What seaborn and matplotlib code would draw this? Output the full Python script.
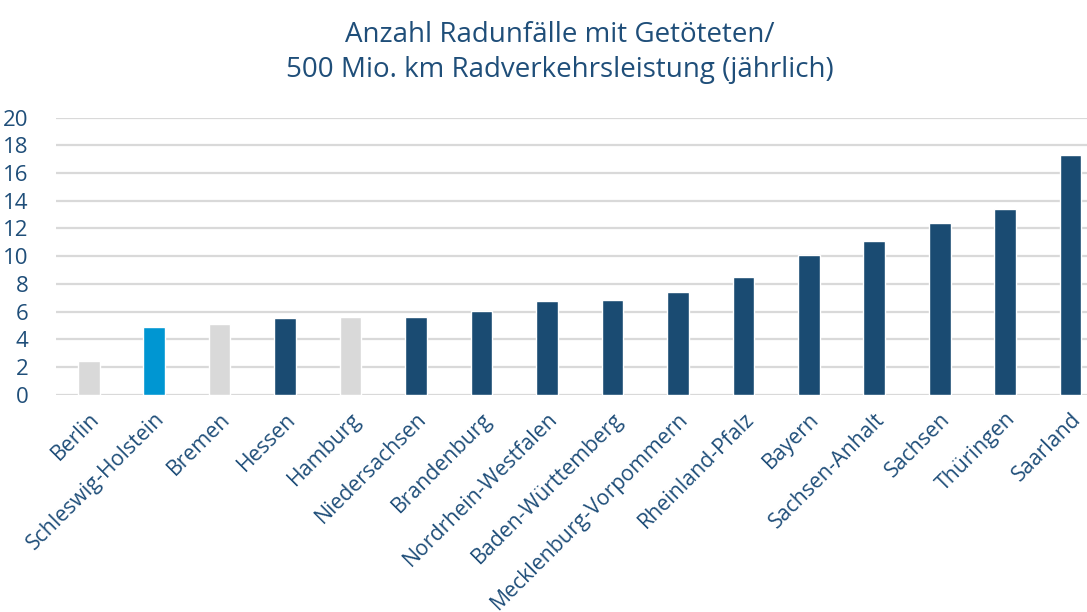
import pandas as pd
import matplotlib
matplotlib.use("Agg")
import matplotlib.pyplot as plt
import seaborn as sns

# data
laender = ["Berlin", "Schleswig-Holstein", "Bremen", "Hessen", "Hamburg",
           "Niedersachsen", "Brandenburg", "Nordrhein-Westfalen",
           "Baden-Württemberg", "Mecklenburg-Vorpommern", "Rheinland-Pfalz",
           "Bayern", "Sachsen-Anhalt", "Sachsen", "Thüringen", "Saarland"]
werte = [2.43, 4.89, 5.10, 5.51, 5.61, 5.61, 6.02, 6.77,
         6.84, 7.44, 8.50, 10.09, 11.07, 12.40, 13.38, 17.28]
gruppe = ["stadt", "sh", "stadt", "land", "stadt", "land", "land", "land",
          "land", "land", "land", "land", "land", "land", "land", "land"]

farben = {"stadt": "#D9D9D9", "sh": "#0096D2", "land": "#1A4B72"}
text_farbe = "#1F4E79"

df = pd.DataFrame({"Land": laender, "Wert": werte, "Gruppe": gruppe})

sns.set_style("white")
plt.rcParams["font.family"] = ["Open Sans", "DejaVu Sans"]

fig = plt.figure(figsize=(10.87, 6.12), dpi=100)
ax = fig.add_axes([56 / 1087, 0.355, 1 - 56 / 1087, 0.453])

sns.barplot(data=df, x="Land", y="Wert", hue="Gruppe", palette=farben,
            saturation=1, dodge=False, width=0.33, legend=False, ax=ax, zorder=3)

ax.set_ylim(0, 20)
ax.set_xlim(-0.5, 15.25)
ax.set_yticks(range(0, 21, 2))
ax.yaxis.grid(True, color="#D9D9D9", linewidth=1.6, zorder=0)
ax.set_axisbelow(True)
for s in ax.spines.values():
    s.set_visible(False)

ax.set_xlabel("")
ax.set_ylabel("")
ax.tick_params(axis="both", length=0, colors=text_farbe)
ax.tick_params(axis="y", pad=20, labelsize=16)
ax.set_xticks(range(len(laender)))
ax.set_xticklabels(laender, rotation=45, ha="right", rotation_mode="anchor")
ax.tick_params(axis="x", pad=10, labelsize=15.3)

fig.text(0.515, 0.965, "Anzahl Radunfälle mit Getöteten/\n500 Mio. km Radverkehrsleistung (jährlich)",
         ha="center", va="top", fontsize=20, color=text_farbe, linespacing=1.3)

fig.savefig("out.png", dpi=100, facecolor="white")
